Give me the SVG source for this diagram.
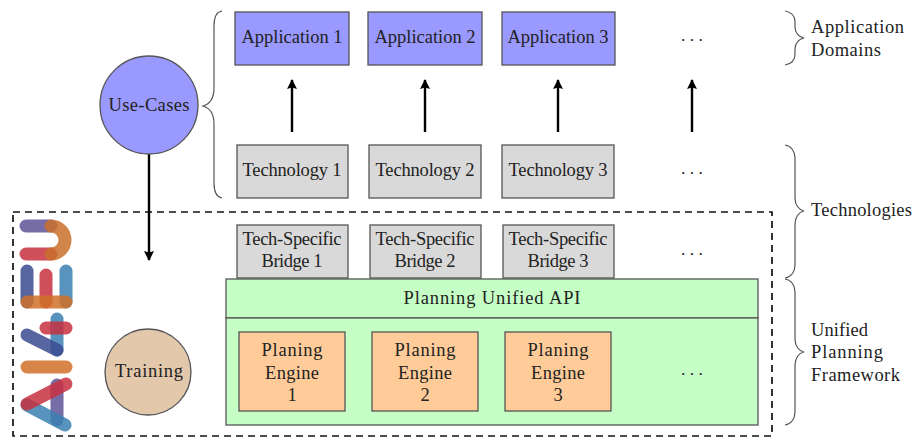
<svg xmlns="http://www.w3.org/2000/svg" width="914" height="438" viewBox="0 0 914 438">
<defs>
<marker id="ah" viewBox="0 0 10 12" markerUnits="userSpaceOnUse" markerWidth="10" markerHeight="12" refX="9" refY="6" orient="auto"><path d="M0 1L10 6L0 11L1.500 6Z" fill="#000"/></marker>
</defs>
<style>
text{font-family:"Liberation Serif","DejaVu Serif",serif;font-size:18.500px;fill:#222;text-anchor:middle}
.l{text-anchor:start}
.d{font-size:17.500px}
.b{stroke:#555;stroke-width:1.300}
.app{fill:#9999ff}.tech{fill:#d9d9d9}.green{fill:#c6ffc6}.eng{fill:#ffcc99}.tr{fill:#e3c8ac}
.brace{fill:none;stroke:#555;stroke-width:1.200}
.arrow{stroke:#000;stroke-width:2.400;fill:none;marker-end:url(#ah)}
.logo{fill:none;stroke-width:13;stroke-linecap:round;opacity:.85}
</style>
<g id="framework-box"><rect x="13" y="212" width="759" height="224" fill="none" stroke="#111" stroke-width="1.700" stroke-dasharray="7 5"/></g>
<g id="logo">
<path class="logo" d="M26 226H51" stroke="#5f5397"/>
<path class="logo" d="M26 254H51" stroke="#c8303f"/>
<path class="logo" d="M51 226A14 14 0 0 1 51 254" stroke="#c9702c"/>
<path class="logo" d="M27 271V302" stroke="#3a4a90"/>
<path class="logo" d="M46 275V302" stroke="#c8303f"/>
<path class="logo" d="M66 271V302" stroke="#3a80b0"/>
<path class="logo" d="M27 302H66" stroke="#d07028"/>
<path class="logo" d="M57 319V350" stroke="#3a80b0"/>
<path class="logo" d="M27 335L57 350" stroke="#3a4a90"/>
<path class="logo" d="M46 328H66" stroke="#c8303f"/>
<path class="logo" d="M27 367H66" stroke="#d07028"/>
<path class="logo" d="M57 385V420" stroke="#5f5397"/>
<path class="logo" d="M27 405L65 425" stroke="#3a80b0"/>
<path class="logo" d="M27 404L66 384" stroke="#c8303f"/>
</g>
<g id="connectors">
<path class="arrow" d="M149 154V260"/>
<path class="arrow" d="M292 132V80"/>
<path class="arrow" d="M425 132V80"/>
<path class="arrow" d="M558 132V80"/>
<path class="arrow" d="M692 132V80"/>
</g>
<g id="brace-use-cases"><path class="brace" d="M222 11C216 12 214 17 214 26V88C214 98 210 104 203 106C210 108 214 114 214 124V183C214 192 216 197 222 198"/></g>
<g id="brace-application-domains"><path class="brace" d="M785 11C791 12 795 16 795 22V27C795 33 799 37 804 38C799 39 795 43 795 49V54C795 60 791 64 785 65"/></g>
<g id="brace-technologies"><path class="brace" d="M785 145C791 146 795 151 795 158V198C795 205 799 210 804 211C799 212 795 217 795 224V265C795 272 791 277 785 278"/></g>
<g id="brace-upf"><path class="brace" d="M785 279C791 280 795 285 795 292V339C795 346 799 351 804 352C799 353 795 358 795 365V412C795 419 791 424 785 425"/></g>
<g id="use-cases"><circle class="app b" cx="149" cy="105" r="49"/><text x="149" y="111" textLength="81">Use-Cases</text></g>
<g id="training"><circle class="tr b" cx="148" cy="372" r="43"/><text x="149" y="377" textLength="68">Training</text></g>
<g id="app1"><rect class="app b" x="235" y="12" width="114" height="53"/><text x="292" y="43" textLength="101">Application 1</text></g>
<g id="app2"><rect class="app b" x="368" y="12" width="114" height="53"/><text x="425" y="43" textLength="101">Application 2</text></g>
<g id="app3"><rect class="app b" x="502" y="12" width="113" height="53"/><text x="558" y="43" textLength="101">Application 3</text></g>
<g id="app-more"><text class="d" x="692" y="41">. . .</text></g>
<g id="tech1"><rect class="tech b" x="237" y="145" width="111" height="53"/><text x="292" y="176" textLength="99">Technology 1</text></g>
<g id="tech2"><rect class="tech b" x="369" y="145" width="112" height="53"/><text x="425" y="176" textLength="99">Technology 2</text></g>
<g id="tech3"><rect class="tech b" x="502" y="145" width="112" height="53"/><text x="558" y="176" textLength="99">Technology 3</text></g>
<g id="tech-more"><text class="d" x="692" y="174">. . .</text></g>
<g id="bridge1"><rect class="tech b" x="237" y="225" width="111" height="53"/><text x="292" y="245" textLength="99">Tech-Specific</text><text x="292" y="267" textLength="61">Bridge 1</text></g>
<g id="bridge2"><rect class="tech b" x="370" y="225" width="111" height="53"/><text x="425" y="245" textLength="99">Tech-Specific</text><text x="425" y="267" textLength="61">Bridge 2</text></g>
<g id="bridge3"><rect class="tech b" x="503" y="225" width="111" height="53"/><text x="558" y="245" textLength="99">Tech-Specific</text><text x="558" y="267" textLength="61">Bridge 3</text></g>
<g id="bridge-more"><text class="d" x="692" y="255">. . .</text></g>
<g id="api"><rect class="green b" x="226" y="279" width="532" height="39"/><text x="492" y="304" textLength="177">Planning Unified API</text></g>
<g id="engines-panel"><rect class="green b" x="226" y="318" width="532" height="107"/></g>
<g id="engine1"><rect class="eng b" x="239" y="332" width="106" height="79"/><text x="292" y="356" textLength="61">Planing</text><text x="292" y="379" textLength="54">Engine</text><text x="292" y="401">1</text></g>
<g id="engine2"><rect class="eng b" x="372" y="332" width="106" height="79"/><text x="425" y="356" textLength="61">Planing</text><text x="425" y="379" textLength="54">Engine</text><text x="425" y="401">2</text></g>
<g id="engine3"><rect class="eng b" x="505" y="332" width="106" height="79"/><text x="558" y="356" textLength="61">Planing</text><text x="558" y="379" textLength="54">Engine</text><text x="558" y="401">3</text></g>
<g id="engine-more"><text class="d" x="692" y="375">. . .</text></g>
<g id="label-domains"><text class="l" x="811" y="33" textLength="93">Application</text><text class="l" x="811" y="56" textLength="70">Domains</text></g>
<g id="label-technologies"><text class="l" x="811" y="216" textLength="101">Technologies</text></g>
<g id="label-upf"><text class="l" x="811" y="336" textLength="57">Unified</text><text class="l" x="811" y="358" textLength="72">Planning</text><text class="l" x="811" y="381" textLength="89">Framework</text></g>
</svg>
